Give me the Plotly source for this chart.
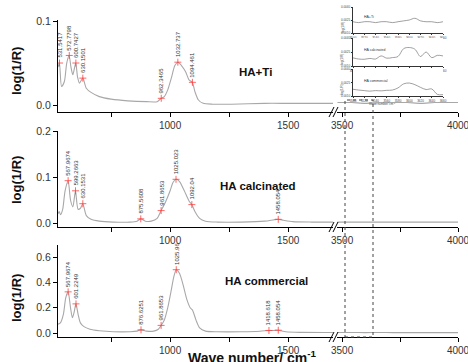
import plotly.graph_objects as go

W, H = 468, 362
def PX(p): return p / W
def PY(p): return 1 - p / H

# ---------------- data ----------------
ti_x = [525, 531, 540, 552, 562, 572, 580, 588, 600, 608, 616, 630, 645, 665, 700, 750, 820, 900, 945, 962, 975, 990, 1005, 1020, 1033, 1048, 1065, 1080, 1094, 1105, 1120, 1140, 1180, 1260, 1400, 1500, 1600, 1690]
ti_y = [0.045, 0.05, 0.022, 0.028, 0.05, 0.059, 0.045, 0.036, 0.05, 0.033, 0.026, 0.032, 0.02, 0.015, 0.01, 0.007, 0.005, 0.004, 0.004, 0.008, 0.01, 0.018, 0.032, 0.047, 0.051, 0.047, 0.04, 0.03, 0.027, 0.016, 0.006, 0.002, 0.001, 0.001, 0.002, 0.002, 0.002, 0.002]
ti_rx = [3480, 3540, 3600, 3660, 3720, 3780, 3840, 3900, 3960, 4000]
ti_ry = [0.003, 0.003, 0.002, 0.003, 0.003, 0.003, 0.002, 0.003, 0.003, 0.003]
ti_px = [531.5, 572.7798, 600.7427, 630.1501, 962.3465, 1032.737, 1094.461]
ti_py = [0.05, 0.059, 0.05, 0.032, 0.008, 0.051, 0.027]
ti_lab = ["531.5417", "572.7798", "600.7427", "630.1501", "962.3465", "1032.737", "1094.461"]

ca_x = [525, 530, 536, 545, 555, 568, 578, 588, 599, 610, 620, 630, 645, 665, 700, 760, 830, 860, 876, 895, 920, 945, 962, 980, 1000, 1012, 1025, 1040, 1060, 1080, 1092, 1105, 1125, 1150, 1200, 1300, 1400, 1440, 1458, 1480, 1520, 1600, 1690]
ca_y = [0.02, 0.025, 0.018, 0.03, 0.07, 0.092, 0.05, 0.035, 0.07, 0.03, 0.032, 0.042, 0.016, 0.008, 0.004, 0.002, 0.002, 0.004, 0.009, 0.004, 0.004, 0.01, 0.027, 0.045, 0.07, 0.088, 0.095, 0.09, 0.07, 0.048, 0.04, 0.025, 0.01, 0.004, 0.002, 0.002, 0.004, 0.007, 0.008, 0.006, 0.003, 0.002, 0.002]
ca_rx = [3480, 3540, 3600, 3660, 3720, 3780, 3840, 3900, 3960, 4000]
ca_ry = [0.002, 0.002, 0.002, 0.002, 0.002, 0.002, 0.002, 0.002, 0.002, 0.002]
ca_px = [567.9674, 599.2663, 630.1531, 875.5608, 961.8653, 1025.023, 1092.04, 1458.054]
ca_py = [0.092, 0.07, 0.042, 0.009, 0.027, 0.095, 0.04, 0.008]
ca_lab = ["567.9674", "599.2663", "630.1531", "875.5608", "961.8653", "1025.023", "1092.04", "1458.054"]

co_x = [525, 535, 548, 558, 568, 578, 586, 594, 601, 610, 620, 635, 660, 700, 760, 830, 860, 876, 900, 930, 950, 962, 975, 990, 1005, 1015, 1026, 1040, 1055, 1070, 1085, 1095, 1110, 1125, 1150, 1200, 1300, 1380, 1418, 1440, 1458, 1490, 1550, 1690]
co_y = [0.07, 0.08, 0.15, 0.28, 0.325, 0.2, 0.12, 0.17, 0.23, 0.15, 0.08, 0.05, 0.03, 0.018, 0.01, 0.01, 0.015, 0.025, 0.015, 0.015, 0.03, 0.06, 0.1, 0.2, 0.34, 0.44, 0.5, 0.47, 0.38, 0.27, 0.2, 0.18, 0.1, 0.04, 0.015, 0.01, 0.01, 0.014, 0.02, 0.02, 0.022, 0.01, 0.005, 0.004]
co_rx = [3480, 3540, 3600, 3660, 3720, 3780, 3840, 3900, 3960, 4000]
co_ry = [0.004, 0.004, 0.003, 0.004, 0.003, 0.003, 0.003, 0.003, 0.003, 0.003]
co_px = [567.9674, 601.2249, 876.6251, 961.8653, 1025.96, 1418.618, 1458.054]
co_py = [0.325, 0.23, 0.025, 0.06, 0.5, 0.02, 0.022]
co_lab = ["567.9674", "601.2249", "876.6251", "961.8653", "1025.96", "1418.618", "1458.054"]

panel_names = ["HA+Ti", "HA calcinated", "HA commercial"]
left_tickvals = [1000, 1500]
left_minor = [750, 1250]
right_tickvals = [3500, 4000]
right_minor = [3750]

# inset data
in_x = [3500, 3510, 3520, 3530, 3540, 3550, 3560, 3570, 3580, 3590, 3600, 3610, 3620, 3630, 3640, 3650, 3660]
in_y1 = [0.0023, 0.0022, 0.0023, 0.0023, 0.0022, 0.0023, 0.0023, 0.0022, 0.0023, 0.0024, 0.0025, 0.0027, 0.0024, 0.0023, 0.0023, 0.0022, 0.0023]
in_y2 = [0.00187, 0.00175, 0.00172, 0.00181, 0.00175, 0.00208, 0.00184, 0.0019, 0.00202, 0.00286, 0.00298, 0.0028, 0.00202, 0.0025, 0.0019, 0.00214, 0.00208]
in_y3 = [0.00175, 0.00166, 0.0016, 0.00154, 0.0016, 0.00157, 0.00163, 0.00166, 0.0019, 0.00235, 0.00244, 0.00226, 0.00196, 0.00172, 0.00178, 0.00118, 0.00115]
in_tickvals = [3500, 3520, 3540, 3560, 3580, 3600, 3620, 3640, 3660]

# ---------------- layout geometry ----------------
left_dom = [PX(58), PX(333)]
right_dom = [PX(337), PX(458)]
left_rng = [525, 1690]
right_rng = [3478, 4000]
ydoms = [[PY(112), PY(20)], [PY(227), PY(131)], [PY(337), PY(245)]]
yrngs = [[-0.0083, 0.1012], [-0.0087, 0.2], [-0.0316, 0.695]]
ydticks = [0.1, 0.1, 0.2]

series = [(ti_x, ti_y, ti_rx, ti_ry, ti_px, ti_py, ti_lab),
          (ca_x, ca_y, ca_rx, ca_ry, ca_px, ca_py, ca_lab),
          (co_x, co_y, co_rx, co_ry, co_px, co_py, co_lab)]

FONT = "Arial, Liberation Sans, sans-serif"
LINEC = "#a8a8a8"
TICKF = dict(size=10, color="#333", family=FONT)
fig = go.Figure()
layout = {}
annotations = []
shapes = []

for p, (lx, ly, rx, ry, pkx, pky, plab) in enumerate(series):
    i_l = 2 * p + 1
    i_r = 2 * p + 2
    xl = "x" if i_l == 1 else f"x{i_l}"
    yl = "y" if i_l == 1 else f"y{i_l}"
    xr = f"x{i_r}"
    yr = f"y{i_r}"
    fig.add_trace(go.Scatter(x=lx, y=ly, xaxis=xl, yaxis=yl, mode="lines",
                             line=dict(color=LINEC, width=1.1, shape="spline", smoothing=0.7),
                             showlegend=False, hoverinfo="skip"))
    fig.add_trace(go.Scatter(x=rx, y=ry, xaxis=xr, yaxis=yr, mode="lines",
                             line=dict(color=LINEC, width=1.1, shape="spline", smoothing=0.7),
                             showlegend=False, hoverinfo="skip"))
    fig.add_trace(go.Scatter(x=pkx, y=pky, xaxis=xl, yaxis=yl, mode="markers",
                             marker=dict(symbol="cross-thin", size=5, line=dict(color="#ff4040", width=0.8)),
                             showlegend=False, hoverinfo="skip"))
    for xv, yv, t in zip(pkx, pky, plab):
        annotations.append(dict(x=xv, y=yv, xref=xl, yref=yl, text=t, showarrow=False,
                                textangle=-90, xanchor="center", yanchor="bottom", yshift=3,
                                font=dict(size=6, color="#333", family=FONT)))
    kl = "xaxis" if i_l == 1 else f"xaxis{i_l}"
    kyl = "yaxis" if i_l == 1 else f"yaxis{i_l}"
    layout[kl] = dict(domain=left_dom, range=left_rng, anchor=yl, showline=True, linecolor="black",
                      linewidth=1, ticks="outside", ticklen=4, tickcolor="black",
                      tickvals=left_tickvals, showgrid=False, zeroline=False, automargin=False,
                      ticklabeloverflow="allow",
                      minor=dict(tickvals=left_minor, ticks="outside", ticklen=4, tickcolor="black"),
                      tickfont=TICKF)
    layout[f"xaxis{i_r}"] = dict(domain=right_dom, range=right_rng, anchor=yr, showline=True,
                                 linecolor="black", linewidth=1, ticks="outside", ticklen=4,
                                 tickcolor="black", tickvals=right_tickvals, automargin=False,
                                 ticklabeloverflow="allow",
                                 minor=dict(tickvals=right_minor, ticks="outside", ticklen=4, tickcolor="black"),
                                 showgrid=False, zeroline=False, tickfont=TICKF)
    layout[kyl] = dict(domain=ydoms[p], range=yrngs[p], anchor=xl, showline=True, linecolor="black",
                       linewidth=1, ticks="outside", ticklen=4, tickcolor="black", dtick=ydticks[p],
                       tick0=0, tickformat=".1f", showgrid=False, zeroline=False, automargin=False,
                       tickfont=dict(size=10.5, color="#333", family=FONT))
    layout[f"yaxis{i_r}"] = dict(domain=ydoms[p], range=yrngs[p], anchor=xr, visible=False,
                                 automargin=False)

    # axis break marks
    yb = [112, 227, 337][p]
    for dx in (0, 4):
        shapes.append(dict(type="line", xref="paper", yref="paper",
                           x0=PX(329 + dx), y0=PY(yb + 5), x1=PX(334 + dx), y1=PY(yb - 5),
                           line=dict(color="black", width=1)))

# y titles
for yc in (71, 180, 298):
    annotations.append(dict(x=PX(16), y=PY(yc), xref="paper", yref="paper", text="<b>log(1/R)</b>",
                            textangle=-90, showarrow=False, xanchor="center", yanchor="middle",
                            font=dict(size=13, color="#111", family=FONT)))
# panel names
annotations.append(dict(x=PX(237), y=PY(72), xref="paper", yref="paper", text="<b>HA+Ti</b>",
                        showarrow=False, xanchor="left", yanchor="middle",
                        font=dict(size=11.5, color="#111", family=FONT)))
annotations.append(dict(x=PX(298), y=PY(186), xref="paper", yref="paper", text="<b>HA calcinated</b>",
                        showarrow=False, xanchor="right", yanchor="middle",
                        font=dict(size=11.5, color="#111", family=FONT)))
annotations.append(dict(x=PX(223), y=PY(281), xref="paper", yref="paper", text="<b>HA commercial</b>",
                        showarrow=False, xanchor="left", yanchor="middle",
                        font=dict(size=11.5, color="#111", family=FONT)))
# x title
annotations.append(dict(x=PX(252), y=PY(357), xref="paper", yref="paper",
                        text="<b>Wave number/ cm<sup>-1</sup></b>", showarrow=False,
                        xanchor="center", yanchor="middle",
                        font=dict(size=14, color="#111", family=FONT)))

# dotted zoom rectangle
shapes.append(dict(type="rect", xref="paper", yref="paper", x0=PX(345), x1=PX(373),
                   y0=PY(337), y1=PY(100), line=dict(color="#444", width=1, dash="dot")))

# ---------------- inset ----------------
in_ydoms = [[PY(33), PY(7)], [PY(66), PY(38)], [PY(96), PY(69)]]
in_series = [in_y1, in_y2, in_y3]
for k in range(3):
    ix = 7 + k
    fig.add_trace(go.Scatter(x=in_x, y=in_series[k], xaxis=f"x{ix}", yaxis=f"y{ix}", mode="lines",
                             line=dict(color="#777", width=0.7, shape="spline"),
                             showlegend=False, hoverinfo="skip"))
    layout[f"xaxis{ix}"] = dict(domain=[PX(353), PX(443)], range=[3500, 3660], anchor=f"y{ix}",
                                showline=True, linecolor="#333", linewidth=0.6, ticks="outside",
                                ticklen=1.5, tickwidth=0.5, tickcolor="#333", tickvals=in_tickvals,
                                showgrid=False, zeroline=False, automargin=False,
                                tickfont=dict(size=3, color="#444", family=FONT))
    layout[f"yaxis{ix}"] = dict(domain=in_ydoms[k], range=[0.001, 0.004], anchor=f"x{ix}",
                                showline=True, linecolor="#333", linewidth=0.6, ticks="outside",
                                ticklen=1.5, tickwidth=0.5, tickcolor="#333",
                                tickvals=[0.001, 0.0025, 0.004], tickformat=".4f",
                                showgrid=False, zeroline=False, automargin=False,
                                tickfont=dict(size=3, color="#444", family=FONT))
    annotations.append(dict(x=PX(346), y=(in_ydoms[k][0] + in_ydoms[k][1]) / 2, xref="paper",
                            yref="paper", text="log(1/R)", textangle=-90, showarrow=False,
                            font=dict(size=3, color="#444", family=FONT)))
for k, t in enumerate(panel_names):
    annotations.append(dict(x=PX(362), y=PY([17, 50, 81][k]), xref="paper", yref="paper", text=t,
                            showarrow=False, xanchor="left", yanchor="middle",
                            font=dict(size=3.5, color="#333", family=FONT)))
annotations.append(dict(x=PX(398), y=PY(100), xref="paper", yref="paper",
                        text="Wave number/ cm<sup>-1</sup>", showarrow=False,
                        font=dict(size=3, color="#444", family=FONT)))

fig.update_layout(width=W, height=H, margin=dict(l=0, r=0, t=0, b=0, autoexpand=False),
                  paper_bgcolor="white", plot_bgcolor="white",
                  annotations=annotations, shapes=shapes, **layout)
fig.write_html("out.html", config={"displayModeBar": False},
               post_script="document.body.style.margin='0';document.body.style.overflow='hidden';")
